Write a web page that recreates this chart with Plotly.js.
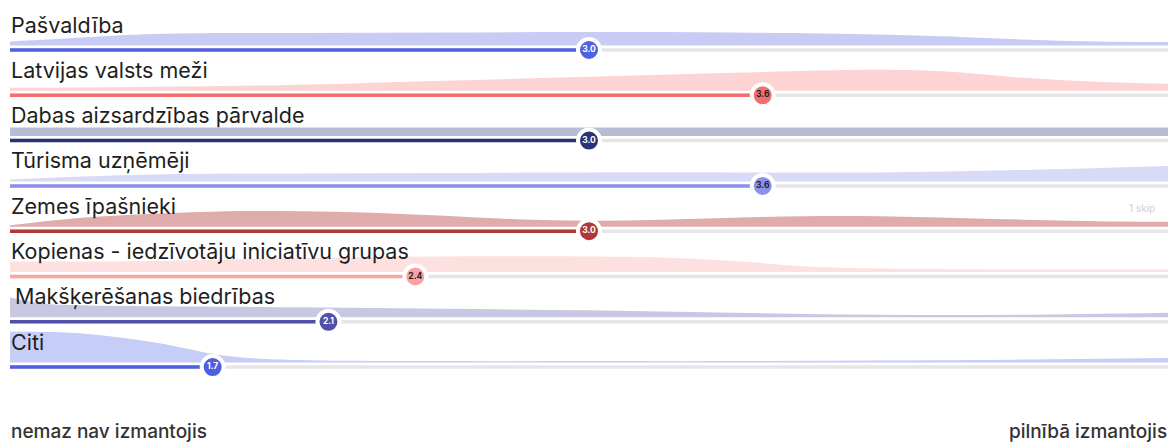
<!DOCTYPE html>
<html>
<head>
<meta charset="utf-8">
<script src="https://cdn.plot.ly/plotly-3.0.1.min.js"></script>
<style>html,body{margin:0;padding:0;background:#fff;}#chart{width:1170px;height:442px;}</style>
</head>
<body>
<div id="chart"></div>
<script>
// ---- data ----
var categories = ["Pašvaldība", "Latvijas valsts meži", "Dabas aizsardzības pārvalde", "Tūrisma uzņēmēji",
  "Zemes īpašnieki", "Kopienas - iedzīvotāju iniciatīvu grupas", "Makšķerēšanas biedrības", "Citi"];
var means = [3.0, 3.6, 3.0, 3.6, 3.0, 2.4, 2.1, 1.7];

var distX1 = [1, 1.25, 1.5, 2, 2.5, 3, 3.5, 4, 4.25, 4.5, 4.75, 5];
var distY1 = [4, 8, 11.5, 12.5, 13, 13.5, 13, 11, 9, 6, 4, 3.5];
var distX2 = [1, 1.5, 2, 2.5, 3, 3.5, 4, 4.25, 4.5, 4.75, 5];
var distY2 = [3, 4, 6, 10, 14, 18, 21, 19, 13, 9, 7];
var distX3 = [1, 2, 3, 4, 5];
var distY3 = [8.5, 8.5, 8.5, 8.5, 8.5];
var distX4 = [1, 1.25, 1.5, 2, 2.5, 3, 3.5, 4, 4.5, 5];
var distY4 = [2, 5, 7, 8, 8.5, 9, 9, 9, 11.5, 15.5];
var distX5 = [1, 1.25, 1.5, 1.75, 2, 2.25, 2.5, 2.75, 3, 3.25, 3.5, 3.75, 4, 4.25, 4.5, 4.75, 5];
var distY5 = [1.5, 9, 13, 15.5, 15.5, 14, 11, 7.5, 6, 7, 9, 10.5, 10.5, 9, 7, 5.5, 5];
var distX6 = [1, 1.5, 2, 2.5, 3, 3.25, 3.5, 3.75, 4, 4.5, 5];
var distY6 = [10.5, 11, 14, 15.5, 15.5, 14.5, 11, 5.5, 3.5, 2.5, 2.5];
var distX7 = [1, 1.1, 1.25, 1.5, 2, 2.5, 3, 3.5, 4, 4.5, 5];
var distY7 = [20, 14, 12, 11, 10, 8.5, 7, 4.5, 2.5, 2.5, 4.5];
var distX8 = [1, 1.25, 1.5, 1.75, 2, 2.5, 3, 3.5, 4, 4.5, 5];
var distY8 = [31, 29, 20, 6.5, 2.5, 1.5, 1.5, 1.5, 2, 3, 4.5];

var distX = [distX1, distX2, distX3, distX4, distX5, distX6, distX7, distX8];
var distY = [distY1, distY2, distY3, distY4, distY5, distY6, distY7, distY8];

var leftLabel = "nemaz nav izmantojis";
var rightLabel = "pilnībā izmantojis";
var skipLabel = "1 skip";

// ---- styles ----
var barColors  = ["#5062e0", "#f26f6f", "#2b3175", "#8d90ea", "#b03838", "#f9a3a3", "#5050aa", "#4c5fe0"];
var areaColors = ["#c8ccf5", "#fdd3d3", "#b9bdd3", "#d9d9f8", "#dfabab", "#fde0e0", "#c9c8e3", "#c6cdf6"];
var dotText    = ["#ffffff", "#222222", "#ffffff", "#222222", "#ffffff", "#222222", "#ffffff", "#ffffff"];
var labelShift = [0, 0, 0, 0, 0, 0, 4, 0];

var rowY0 = 50, rowStep = 45.3, areaGap = 4.5;
var traces = [];
var annotations = [];

categories.forEach(function (cat, i) {
  var ty = rowY0 + i * rowStep;
  var base = ty - areaGap;
  traces.push({x: distX[i], y: distX[i].map(function () { return base; }), type: 'scatter', mode: 'lines',
    line: {width: 0, color: 'rgba(0,0,0,0)'}, hoverinfo: 'skip', showlegend: false});
  traces.push({x: distX[i], y: distY[i].map(function (d) { return base - d; }), type: 'scatter', mode: 'lines',
    line: {width: 0, color: areaColors[i], shape: 'spline', smoothing: 1}, fill: 'tonexty', fillcolor: areaColors[i],
    hoverinfo: 'skip', showlegend: false});
  traces.push({x: [1, 5], y: [ty, ty], type: 'scatter', mode: 'lines', line: {width: 3.5, color: '#e6e6e6'},
    hoverinfo: 'skip', showlegend: false});
  traces.push({x: [1, means[i]], y: [ty, ty], type: 'scatter', mode: 'lines', line: {width: 3.5, color: barColors[i]},
    hoverinfo: 'skip', showlegend: false});
  traces.push({x: [means[i]], y: [ty], type: 'scatter', mode: 'markers+text',
    marker: {size: 22, color: barColors[i], line: {width: 4, color: '#ffffff'}},
    text: ['<b>' + means[i].toFixed(1) + '</b>'], textposition: 'middle center',
    textfont: {size: 8.5, color: dotText[i], family: 'Inter, sans-serif'},
    hoverinfo: 'skip', showlegend: false, cliponaxis: false});
  annotations.push({xref: 'paper', yref: 'y', x: 9 / 1170, y: ty - 25.5, xanchor: 'left', yanchor: 'middle',
    xshift: labelShift[i], text: cat, showarrow: false,
    font: {family: 'Inter, sans-serif', size: 21.5, color: '#1e1e1e'}});
});

annotations.push({xref: 'paper', yref: 'y', x: 9 / 1170, y: 431, xanchor: 'left', yanchor: 'middle',
  text: leftLabel, showarrow: false, font: {family: 'Inter, sans-serif', size: 19, color: '#333333', weight: 500}});
annotations.push({xref: 'paper', yref: 'y', x: 1169 / 1170, y: 431, xanchor: 'right', yanchor: 'middle',
  text: rightLabel, showarrow: false, font: {family: 'Inter, sans-serif', size: 19, color: '#333333', weight: 500}});
annotations.push({xref: 'paper', yref: 'y', x: 1157 / 1170, y: 208, xanchor: 'right', yanchor: 'middle',
  text: skipLabel, showarrow: false, font: {family: 'Inter, sans-serif', size: 10, color: '#d0d0d0'}});

var layout = {
  width: 1170, height: 442,
  margin: {l: 0, r: 0, t: 0, b: 0},
  paper_bgcolor: '#ffffff', plot_bgcolor: '#ffffff',
  xaxis: {range: [1 - 10 / 289.5, 1 + 1160 / 289.5], visible: false, fixedrange: true},
  yaxis: {range: [442, 0], visible: false, fixedrange: true},
  annotations: annotations,
  showlegend: false
};

Plotly.newPlot('chart', traces, layout, {staticPlot: true, displayModeBar: false});
</script>
</body>
</html>
